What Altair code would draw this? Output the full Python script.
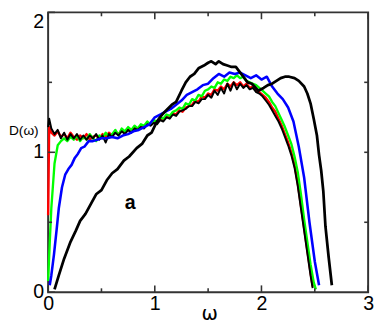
import altair as alt
import pandas as pd

# ---------------- axis ticks ----------------
X_TICKS = [0, 1, 2, 3]
Y_TICKS = [0, 1, 2]
Y_LABELS_MID = [0, 1]
Y_LABELS_TOP = [2]
X_MINOR = [0.5, 1.5, 2.5]
Y_MINOR = [0.5, 1.5]
RIGHT_TICKS = [0.5, 1.0, 1.5]
X_TITLE = "ω"
Y_TITLE = "D(ω)"

# common omega sampling grid for the noisy curves: 0.03 .. 2.16
OMEGA_GRID = [round(0.03 * k, 2) for k in range(1, 73)]

# ---------------- red (noisy) ----------------
RED_HEAD_X = [0.0, 0.01]
RED_HEAD_Y = [0.55, 1.18]
RED_GRID_Y = [
    1.14, 1.12, 1.15, 1.11, 1.13, 1.10, 1.14, 1.11, 1.09, 1.12, 1.10, 1.13,
    1.09, 1.11, 1.12, 1.10, 1.13, 1.11, 1.14, 1.12, 1.15, 1.13, 1.16, 1.14,
    1.17, 1.15, 1.18, 1.17, 1.19, 1.18, 1.21, 1.20, 1.22, 1.21, 1.24, 1.23,
    1.26, 1.25, 1.28, 1.27, 1.30, 1.29, 1.32, 1.33, 1.34, 1.37, 1.36, 1.40,
    1.39, 1.42, 1.41, 1.45, 1.44, 1.47, 1.45, 1.49, 1.47, 1.50, 1.48, 1.50,
    1.47, 1.49, 1.46, 1.47, 1.44, 1.43, 1.41, 1.39, 1.36, 1.32, 1.29, 1.24,
]
RED_TAIL_X = [2.19, 2.22, 2.25, 2.28, 2.31, 2.34, 2.37, 2.40, 2.43, 2.46, 2.48]
RED_TAIL_Y = [1.19, 1.13, 1.07, 1.00, 0.91, 0.78, 0.62, 0.46, 0.30, 0.14, 0.04]

# ---------------- green (noisy) ----------------
GREEN_HEAD_X = [0.0, 0.015]
GREEN_HEAD_Y = [0.08, 0.35]
GREEN_GRID_Y = [
    0.60, 0.92, 1.05, 1.08, 1.10, 1.08, 1.11, 1.09, 1.12, 1.08, 1.11, 1.09,
    1.13, 1.10, 1.08, 1.12, 1.10, 1.14, 1.11, 1.13, 1.16, 1.12, 1.17, 1.15,
    1.18, 1.16, 1.19, 1.17, 1.20, 1.19, 1.22, 1.20, 1.23, 1.22, 1.25, 1.24,
    1.27, 1.26, 1.29, 1.30, 1.32, 1.31, 1.35, 1.34, 1.38, 1.37, 1.41, 1.40,
    1.44, 1.45, 1.47, 1.46, 1.50, 1.49, 1.52, 1.51, 1.54, 1.53, 1.55, 1.53,
    1.54, 1.51, 1.50, 1.49, 1.48, 1.46, 1.44, 1.42, 1.40, 1.36, 1.33, 1.28,
]
GREEN_TAIL_X = [2.19, 2.22, 2.25, 2.28, 2.31, 2.34, 2.37, 2.40, 2.43, 2.46, 2.49, 2.51]
GREEN_TAIL_Y = [1.23, 1.18, 1.12, 1.06, 0.97, 0.86, 0.70, 0.52, 0.36, 0.20, 0.07, 0.02]

# ---------------- black (noisy) ----------------
BLACKN_HEAD_X = [0.0, 0.01]
BLACKN_HEAD_Y = [1.18, 1.24]
BLACKN_GRID_Y = [
    1.17, 1.13, 1.16, 1.10, 1.14, 1.09, 1.13, 1.10, 1.13, 1.09, 1.12, 1.09,
    1.12, 1.10, 1.13, 1.09, 1.12, 1.07, 1.13, 1.11, 1.14, 1.12, 1.15, 1.13,
    1.16, 1.14, 1.17, 1.16, 1.18, 1.17, 1.20, 1.19, 1.21, 1.20, 1.23, 1.22,
    1.25, 1.24, 1.27, 1.26, 1.29, 1.30, 1.31, 1.33, 1.33, 1.36, 1.35, 1.38,
    1.38, 1.41, 1.39, 1.44, 1.41, 1.46, 1.42, 1.49, 1.44, 1.50, 1.45, 1.49,
    1.46, 1.48, 1.45, 1.46, 1.43, 1.42, 1.40, 1.37, 1.34, 1.30, 1.26, 1.22,
]
BLACKN_TAIL_X = [2.19, 2.22, 2.25, 2.28, 2.31, 2.34, 2.37, 2.40, 2.43, 2.46, 2.48]
BLACKN_TAIL_Y = [1.17, 1.11, 1.05, 0.98, 0.89, 0.76, 0.60, 0.44, 0.28, 0.12, 0.03]

# ---------------- blue ----------------
BLUE_X = [0.015, 0.03, 0.055, 0.08, 0.10, 0.13, 0.16, 0.19, 0.22, 0.25,
          0.28, 0.31, 0.34, 0.38, 0.42, 0.46, 0.50, 0.55, 0.60, 0.65,
          0.70, 0.75, 0.80, 0.85, 0.90, 0.95, 1.00, 1.05, 1.10, 1.15,
          1.20, 1.25, 1.30, 1.35, 1.40, 1.45, 1.50, 1.55, 1.60, 1.65,
          1.70, 1.75, 1.80, 1.85, 1.90, 1.95, 2.00, 2.05, 2.10, 2.15,
          2.20, 2.25, 2.30, 2.35, 2.40, 2.45, 2.50, 2.54]
BLUE_Y = [0.05, 0.12, 0.27, 0.45, 0.60, 0.75, 0.84, 0.88, 0.91, 0.96,
          0.99, 1.03, 1.04, 1.08, 1.08, 1.09, 1.10, 1.10, 1.11, 1.10,
          1.12, 1.13, 1.15, 1.16, 1.18, 1.20, 1.25, 1.27, 1.29, 1.31,
          1.34, 1.37, 1.41, 1.43, 1.45, 1.48, 1.49, 1.53, 1.56, 1.54,
          1.57, 1.56, 1.57, 1.55, 1.53, 1.55, 1.52, 1.54, 1.47, 1.42,
          1.38, 1.32, 1.22, 1.04, 0.82, 0.50, 0.22, 0.05]

# ---------------- black (smooth) ----------------
BLACKS_X = [0.06, 0.10, 0.15, 0.21, 0.26, 0.30, 0.35, 0.40, 0.45, 0.50,
            0.55, 0.60, 0.65, 0.71, 0.76, 0.83, 0.88, 0.93, 0.97, 1.02,
            1.07, 1.12, 1.16, 1.20, 1.25, 1.29, 1.33, 1.37, 1.41, 1.46,
            1.50, 1.53, 1.57, 1.60, 1.64, 1.68, 1.72, 1.76, 1.79, 1.83,
            1.87, 1.91, 1.97, 2.02, 2.06, 2.10, 2.14, 2.18, 2.22, 2.26,
            2.31, 2.35, 2.40, 2.43, 2.46, 2.49, 2.52, 2.54, 2.56, 2.58,
            2.60, 2.63, 2.66]
BLACKS_Y = [0.02, 0.12, 0.24, 0.36, 0.44, 0.51, 0.56, 0.63, 0.70, 0.73,
            0.80, 0.85, 0.88, 0.94, 0.97, 1.03, 1.06, 1.12, 1.14, 1.22,
            1.27, 1.31, 1.34, 1.36, 1.44, 1.50, 1.54, 1.56, 1.60, 1.62,
            1.64, 1.65, 1.63, 1.65, 1.63, 1.62, 1.61, 1.61, 1.58, 1.54,
            1.50, 1.49, 1.44, 1.46, 1.48, 1.49, 1.51, 1.53, 1.54, 1.54,
            1.53, 1.51, 1.47, 1.42, 1.35, 1.24, 1.12, 0.98, 0.87, 0.72,
            0.47, 0.25, 0.05]

# annotation
LABEL_TEXT = "a"
LABEL_X = 0.77
LABEL_Y = 0.64

W, H = 327, 286
FRAME = "#333333"


def noisy(hx, hy, gy, tx, ty):
    n = min(len(OMEGA_GRID), len(gy))
    xs = list(hx) + OMEGA_GRID[:n] + list(tx)
    ys = list(hy) + list(gy[:n]) + list(ty)
    return pd.DataFrame({"omega": xs, "D": ys})


def simple(xs, ys):
    n = min(len(xs), len(ys))
    return pd.DataFrame({"omega": xs[:n], "D": ys[:n]})


xscale = alt.Scale(domain=[0, 3], nice=False, zero=False)
yscale = alt.Scale(domain=[0, 2], nice=False, zero=False)

xaxis = alt.Axis(values=X_TICKS, format="d", title=X_TITLE)


def X(field):
    return alt.X(field, scale=xscale, axis=xaxis, title=X_TITLE)


def Y(field):
    return alt.Y(field, scale=yscale, axis=None)


def line(df, color, width):
    return alt.Chart(df).mark_line(color=color, strokeWidth=width, strokeJoin="round").encode(
        x=X("omega:Q"), y=Y("D:Q"),
    )


red = line(noisy(RED_HEAD_X, RED_HEAD_Y, RED_GRID_Y, RED_TAIL_X, RED_TAIL_Y), "#ff0000", 2.4)
green = line(noisy(GREEN_HEAD_X, GREEN_HEAD_Y, GREEN_GRID_Y, GREEN_TAIL_X, GREEN_TAIL_Y), "#00ff00", 2.4)
blackn = line(noisy(BLACKN_HEAD_X, BLACKN_HEAD_Y, BLACKN_GRID_Y, BLACKN_TAIL_X, BLACKN_TAIL_Y), "#000000", 2.0)
blue = line(simple(BLUE_X, BLUE_Y), "#0000ff", 2.6)
blacks = line(simple(BLACKS_X, BLACKS_Y), "#000000", 2.8)


def xticks(vals, y0, y1):
    return alt.Chart(pd.DataFrame({"omega": vals})).mark_rule(color=FRAME, strokeWidth=1.6).encode(
        x=X("omega:Q"), y=alt.value(y0), y2=alt.value(y1))


def yticks(vals, x0, x1):
    return alt.Chart(pd.DataFrame({"D": vals})).mark_rule(color=FRAME, strokeWidth=1.6).encode(
        x=alt.value(x0), x2=alt.value(x1), y=Y("D:Q"))


tick_layers = [
    xticks(X_TICKS, H, H - 7), xticks(X_MINOR, H, H - 4),
    xticks(X_TICKS, 0, 7), xticks(X_MINOR, 0, 4),
    yticks(Y_TICKS, 0, 7), yticks(Y_MINOR, 0, 4),
    yticks(RIGHT_TICKS, W, W - 4),
]


def ylabels(vals, baseline):
    df = pd.DataFrame({"D": vals, "txt": [str(v) for v in vals]})
    return alt.Chart(df).mark_text(
        font="Liberation Sans", fontSize=20, color="black", align="right", baseline=baseline,
    ).encode(x=alt.value(-4), y=Y("D:Q"), text="txt:N")


label = alt.Chart(pd.DataFrame({"omega": [LABEL_X], "D": [LABEL_Y], "txt": [LABEL_TEXT]})).mark_text(
    font="Liberation Sans", fontSize=20, fontWeight="bold", color="black",
    align="center", baseline="middle",
).encode(x=X("omega:Q"), y=Y("D:Q"), text="txt:N")

# y-axis title, placed in the narrow left margin above the "1" label
ytitle = alt.Chart(pd.DataFrame({"txt": [Y_TITLE]})).mark_text(
    font="Liberation Sans", fontSize=14, color="black",
    align="left", baseline="middle",
).encode(x=alt.value(-40), y=alt.value(H / 2 - 22), text="txt:N")

chart = alt.layer(
    red, green, blackn, blue, blacks, label, ytitle,
    ylabels(Y_LABELS_MID, "middle"), ylabels(Y_LABELS_TOP, "top"),
    *tick_layers
).properties(
    width=W, height=H,
    autosize=alt.AutoSizeParams(type="none"),
    padding={"left": 41, "top": 1, "right": 6, "bottom": 29},
    background="white",
).configure_view(
    stroke=FRAME, strokeWidth=2,
).configure_axis(
    grid=False, ticks=False, tickSize=0, domain=False,
    labelFont="Liberation Sans", labelFontSize=20, labelColor="black",
    labelFlush=False, labelOverlap=False, labelBound=False,
    titleFont="DejaVu Sans", titleFontSize=20, titleFontWeight="normal", titleColor="black",
).configure_axisX(
    labelPadding=2, titleX=W / 2 + 1, titleY=28, titleBaseline="alphabetic", titleAlign="center",
)

chart.save("out.html", embed_options={"renderer": "svg", "actions": False})
